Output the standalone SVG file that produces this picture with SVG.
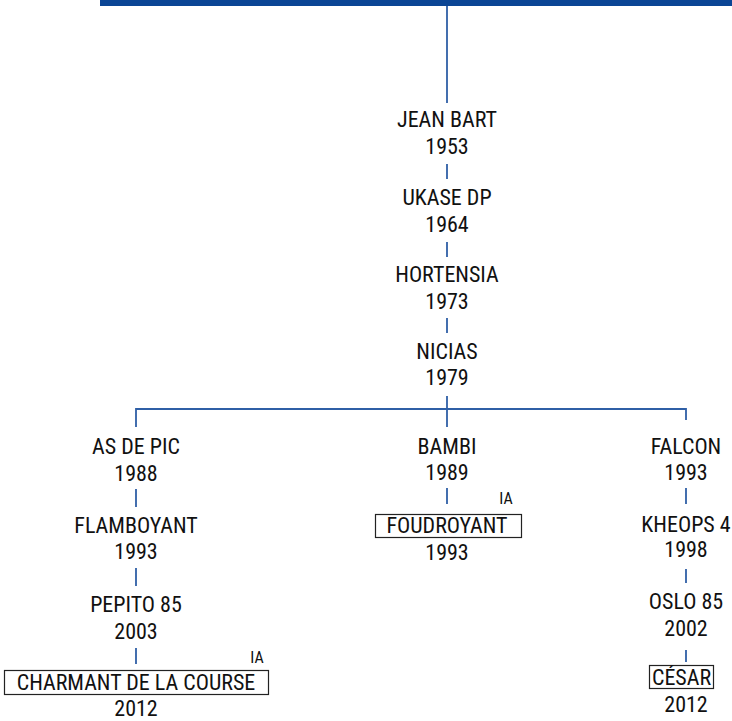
<svg xmlns="http://www.w3.org/2000/svg" width="732" height="721" viewBox="0 0 732 721">
<style>
.t{font-family:Roboto,"Liberation Sans",sans-serif;font-size:22px;font-stretch:condensed;fill:#111;text-anchor:middle}
.s{font-family:Roboto,"Liberation Sans",sans-serif;font-size:16px;font-stretch:condensed;fill:#111;text-anchor:middle}
.c{stroke:#2f5fa6;stroke-width:1.8;fill:none}
.b{fill:none;stroke:#222;stroke-width:1.2}
</style>
<rect x="100" y="0" width="632" height="6" fill="#0b4595"/>
<g id="connectors" class="c">
<path d="M447 6V103"/>
<path d="M447 164V179"/>
<path d="M447 242V257"/>
<path d="M447 318V333"/>
<path d="M447 396V427"/>
<path d="M136 427V409H686V420"/>
<path d="M136 489V507"/>
<path d="M136 568V586"/>
<path d="M136 648V664"/>
<path d="M447 488V504"/>
<path d="M686 488V504"/>
<path d="M686 569V583"/>
<path d="M686 650V662"/>
</g>
<g id="jean-bart"><text class="t" x="447" y="127">JEAN BART</text><text class="t" x="447" y="154">1953</text></g>
<g id="ukase-dp"><text class="t" x="447" y="205">UKASE DP</text><text class="t" x="447" y="232">1964</text></g>
<g id="hortensia"><text class="t" x="447" y="282">HORTENSIA</text><text class="t" x="447" y="309">1973</text></g>
<g id="nicias"><text class="t" x="447" y="359">NICIAS</text><text class="t" x="447" y="385">1979</text></g>
<g id="as-de-pic"><text class="t" x="136" y="454">AS DE PIC</text><text class="t" x="136" y="481">1988</text></g>
<g id="flamboyant"><text class="t" x="136" y="533">FLAMBOYANT</text><text class="t" x="136" y="559">1993</text></g>
<g id="pepito-85"><text class="t" x="136" y="612">PEPITO 85</text><text class="t" x="136" y="639">2003</text></g>
<g id="charmant"><rect class="b" x="4.5" y="670.5" width="264" height="24"/><text class="t" x="136" y="690">CHARMANT DE LA COURSE</text><text class="s" x="257" y="663">IA</text><text class="t" x="136" y="716">2012</text></g>
<g id="bambi"><text class="t" x="447" y="454">BAMBI</text><text class="t" x="447" y="480">1989</text></g>
<g id="foudroyant"><rect class="b" x="375.5" y="514.5" width="146" height="23"/><text class="t" x="447" y="533">FOUDROYANT</text><text class="s" x="506" y="504">IA</text><text class="t" x="447" y="560">1993</text></g>
<g id="falcon"><text class="t" x="686" y="454">FALCON</text><text class="t" x="686" y="480">1993</text></g>
<g id="kheops-4"><text class="t" x="686" y="532">KHEOPS 4</text><text class="t" x="686" y="557">1998</text></g>
<g id="oslo-85"><text class="t" x="686" y="609">OSLO 85</text><text class="t" x="686" y="636">2002</text></g>
<g id="cesar"><rect class="b" x="649.5" y="665.5" width="64" height="23"/><text class="t" x="681.5" y="685">CÉSAR</text><text class="t" x="686" y="712">2012</text></g>
</svg>
